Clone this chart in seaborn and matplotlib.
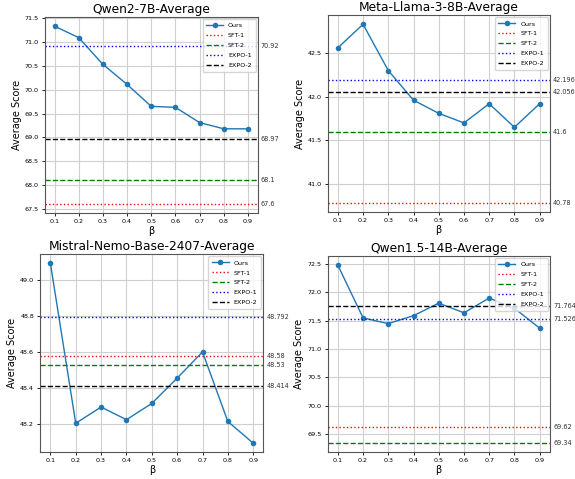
import numpy as np
import pandas as pd
import matplotlib
matplotlib.use("Agg")
import matplotlib.pyplot as plt
import matplotlib.transforms as mtransforms
import seaborn as sns

betas = [0.1, 0.2, 0.3, 0.4, 0.5, 0.6, 0.7, 0.8, 0.9]

titles = ["Qwen2-7B-Average", "Meta-Llama-3-8B-Average",
          "Mistral-Nemo-Base-2407-Average", "Qwen1.5-14B-Average"]

qwen2_ours = [71.33, 71.09, 70.53, 70.11, 69.65, 69.63, 69.31, 69.18, 69.18]
llama_ours = [42.56, 42.83, 42.30, 41.96, 41.81, 41.70, 41.92, 41.65, 41.92]
mistral_ours = [49.09, 48.205, 48.295, 48.225, 48.315, 48.455, 48.60, 48.215, 48.095]
qwen15_ours = [72.48, 71.55, 71.45, 71.59, 71.81, 71.64, 71.90, 71.72, 71.37]

# SFT-1, SFT-2, EXPO-1, EXPO-2
qwen2_base = [67.6, 68.1, 70.92, 68.97]
llama_base = [40.78, 41.6, 42.196, 42.056]
mistral_base = [48.58, 48.53, 48.792, 48.414]
qwen15_base = [69.62, 69.34, 71.526, 71.764]

base_names = ["SFT-1", "SFT-2", "EXPO-1", "EXPO-2"]
base_colors = ["red", "green", "blue", "black"]
base_styles = [":", "--", ":", "--"]

ours_all = [qwen2_ours, llama_ours, mistral_ours, qwen15_ours]
base_all = [qwen2_base, llama_base, mistral_base, qwen15_base]

positions = [
    [0.078, 0.555, 0.370, 0.409],
    [0.570, 0.557, 0.386, 0.411],
    [0.070, 0.056, 0.388, 0.413],
    [0.570, 0.056, 0.386, 0.409],
]

fig, axes = plt.subplots(2, 2, figsize=(5.75, 4.79), dpi=100)

for i, ax in enumerate(axes.flat):
    df = pd.DataFrame({"beta": betas, "score": ours_all[i]})
    sns.lineplot(data=df, x="beta", y="score", marker="o", color="#1f77b4",
                 markersize=4, markeredgewidth=0, linewidth=1, label="Ours", ax=ax)
    trans = mtransforms.blended_transform_factory(ax.transAxes, ax.transData)
    for name, val, c, ls in zip(base_names, base_all[i], base_colors, base_styles):
        ax.axhline(val, color=c, linestyle=ls, linewidth=1, label=name)
        ax.text(1.015, val, f"{val:g}", transform=trans, fontsize=4.7,
                va="center", ha="left", color="#333333", clip_on=False)
    ax.set_xticks(betas)
    ax.set_xticklabels([f"{b:.1f}" for b in betas])
    ax.tick_params(labelsize=4.6, length=2.5, width=0.6, pad=2)
    ax.grid(True, color="#d0d0d0", linewidth=0.8)
    for sp in ax.spines.values():
        sp.set_color("#555555")
        sp.set_linewidth(0.8)
    ax.set_title(titles[i], fontsize=8.8, pad=3)
    ax.set_xlabel("β", fontsize=7, labelpad=1)
    ax.set_ylabel("Average Score", fontsize=7, labelpad=2)
    ax.legend(loc="upper right", fontsize=4.6, handlelength=2.6,
              borderpad=0.6, labelspacing=0.7, borderaxespad=0.3)
    ax.set_position(positions[i])

fig.savefig("out.png", dpi=100)
